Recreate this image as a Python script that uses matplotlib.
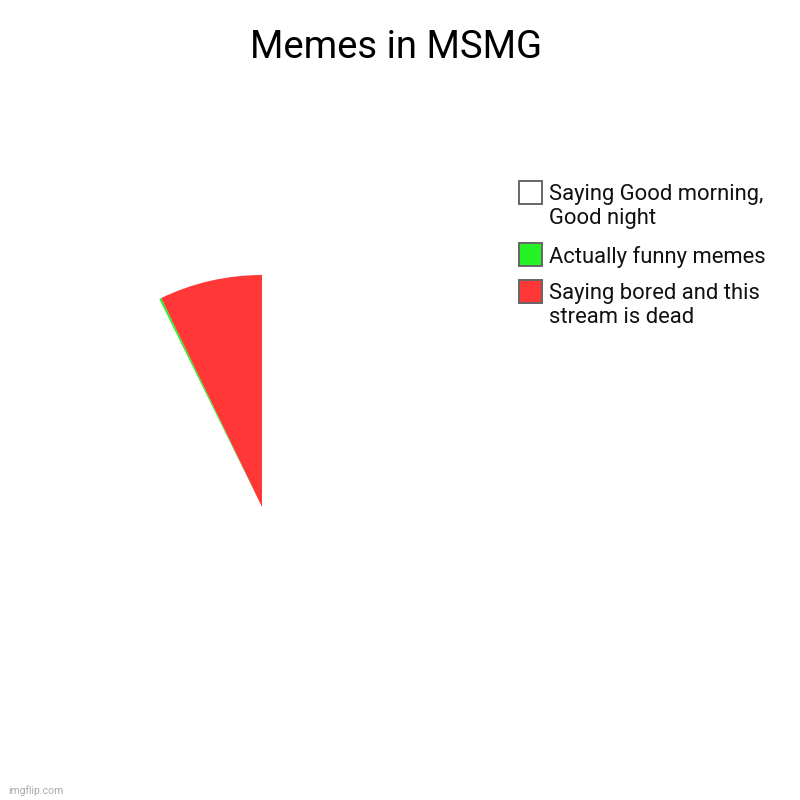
import matplotlib
matplotlib.use('Agg')
import matplotlib.pyplot as plt
from matplotlib.patches import Rectangle

plt.rcParams['font.family'] = ['Roboto', 'DejaVu Sans']

# data
labels = ["Saying Good morning,\nGood night",
          "Actually funny memes",
          "Saying bored and this\nstream is dead"]
values = [92.7, 0.15, 7.15]
colors = ["#ffffff", "#25f325", "#ff3737"]
title = "Memes in MSMG"

W = H = 800
fig = plt.figure(figsize=(8, 8), dpi=100)

def px(x, y):
    # pixel (top-left origin) -> figure fraction
    return x / W, 1 - y / H

# pie: centre (262, 507), radius 232 px
cx, cy, r = 262, 507, 232
ax = fig.add_axes([(cx - r) / W, 1 - (cy + r) / H, 2 * r / W, 2 * r / H])
ax.pie(values, colors=colors, startangle=90, counterclock=False, radius=1,
       wedgeprops=dict(linewidth=0))
ax.set_xlim(-1, 1)
ax.set_ylim(-1, 1)
ax.set_aspect('equal')
ax.axis('off')

fig.text(*px(396, 47), title, ha='center', va='center', fontsize=27.5, color='black')

# legend, drawn by hand
box_tops = [181, 243, 280]
for lab, col, top in zip(labels, colors, box_tops):
    x0, y0 = px(519, top + 23)
    fig.add_artist(Rectangle((x0, y0), 23 / W, 23 / H, transform=fig.transFigure,
                             facecolor=col, edgecolor='#666666', linewidth=1.4))
    fig.text(*px(549, top + 3), lab, ha='left', va='top', fontsize=15.8,
             color='#111111', linespacing=1.2)

fig.text(*px(8, 791), "imgflip.com", ha='left', va='center', fontsize=7.5,
         color='#aaaaaa')

plt.savefig("out.png", dpi=100)
plt.close()
